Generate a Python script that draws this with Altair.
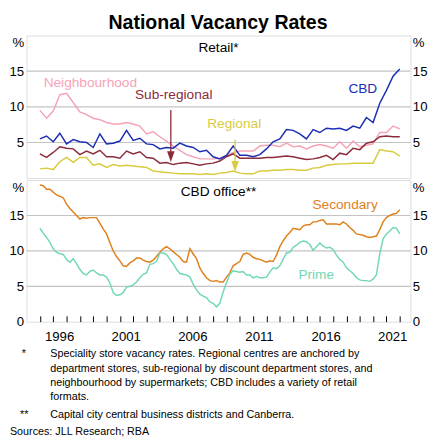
import altair as alt
import pandas as pd

FONT = "Liberation Sans"

# ---------------- data ----------------
retail_years = [1995 + 0.5 * i for i in range(55)]
neighbourhood = [9.5, 8.4, 9.4, 11.7, 11.9, 10.6, 9.3, 8.9, 8.4, 8.2,
                 7.8, 7.6, 7.6, 7.8, 7.6, 7.3, 6.2, 6.5, 5.8, 5.2,
                 4.5, 3.9, 3.3, 3.0, 2.7, 2.7, 2.7, 2.8, 3.2, 3.6,
                 3.8, 3.8, 3.8, 4.5, 4.6, 4.6, 4.4, 4.9, 4.4, 4.5,
                 4.1, 4.5, 4.7, 4.5, 4.2, 5.1, 4.2, 5.2, 4.4, 4.6,
                 4.8, 6.4, 6.4, 7.3, 6.9]
sub_regional = [3.4, 2.9, 3.6, 4.4, 4.2, 4.1, 3.3, 3.8, 3.4, 3.9,
                3.0, 3.0, 2.8, 3.8, 3.4, 3.7, 2.9, 2.8, 2.1, 2.2,
                1.9, 2.1, 2.2, 2.0, 1.8, 2.0, 2.1, 2.4, 3.0, 3.4,
                2.8, 2.8, 2.8, 2.8, 2.9, 2.9, 3.0, 3.1, 3.0, 2.8,
                2.6, 2.7, 2.9, 3.2, 2.6, 3.5, 3.3, 4.2, 4.0, 4.9,
                5.1, 5.8, 5.9, 5.8, 5.8]
regional = [1.3, 1.4, 1.2, 2.3, 2.9, 2.2, 2.9, 2.9, 1.8, 2.0,
            1.5, 1.9, 1.7, 1.8, 1.7, 1.6, 1.5, 1.0, 0.9, 0.8,
            0.7, 0.6, 0.6, 0.6, 0.5, 0.6, 0.5, 0.7, 0.8, 1.0,
            0.7, 0.6, 0.6, 1.0, 1.0, 1.1, 1.1, 1.2, 1.2, 1.1,
            1.1, 1.4, 1.5, 1.8, 1.9, 2.0, 2.0, 2.1, 2.1, 2.1,
            2.1, 4.0, 3.8, 3.7, 3.1]
cbd_retail = [5.5, 5.9, 5.1, 6.3, 4.8, 5.4, 5.1, 5.0, 4.3, 6.2,
              4.8, 4.9, 5.2, 6.7, 5.3, 5.6, 4.8, 4.7, 4.1, 4.3,
              4.2, 4.9, 4.5, 4.3, 3.7, 3.9, 3.0, 2.7, 3.2, 4.5,
              3.2, 3.2, 3.0, 3.3, 4.1, 5.1, 5.5, 6.8, 6.7, 6.2,
              5.5, 6.8, 6.4, 7.0, 6.9, 7.0, 6.7, 7.3, 7.0, 8.5,
              7.8, 10.5, 12.3, 14.3, 15.3]

office_years = [1995 + 0.25 * i for i in range(109)]
secondary = [19.3, 19.2, 18.7, 18.7,  18.3, 17.9, 17.7, 17.5,
             16.6, 16.0, 15.5, 15.0,  14.5, 14.7, 14.6, 14.7,
             14.7, 14.7, 13.9, 13.1,  12.4, 11.2, 10.0, 9.2,
             8.6, 7.9, 7.8, 8.3,      8.6, 9.0, 9.0, 8.7,
             8.5, 8.4, 8.7, 9.2,      9.8, 10.3, 10.6, 10.3,
             9.9, 9.5, 9.1, 8.5,      8.4, 10.3, 9.6, 8.9,
             7.6, 6.8, 6.2, 5.8,      5.7, 5.8, 5.6, 5.6,
             6.3, 6.9, 7.9, 8.2,      8.5, 9.5, 9.7, 9.5,
             9.1, 8.9, 8.8, 8.6,      8.4, 8.6, 8.5, 9.4,
             10.6, 11.4, 12.1, 12.6,  13.2, 13.1, 13.0, 13.5,
             13.7, 13.7, 14.1, 14.1,  14.3, 14.4, 13.8, 13.8,
             13.8, 13.8, 13.7, 14.1,  13.8, 13.3, 12.9, 12.4,
             12.3, 12.2, 12.0, 11.9,  12.0, 12.1, 13.0, 14.1,
             14.7, 15.0, 15.2, 15.3,  15.8]
prime = [13.2, 12.5, 11.9, 11.2,  10.3, 9.8, 9.6, 9.5,
         8.8, 8.4, 8.9, 8.2,      7.4, 6.8, 6.6, 7.1,
         7.3, 6.9, 6.6, 6.6,      6.3, 5.5, 4.1, 3.7,
         3.8, 4.1, 4.9, 5.0,      5.2, 5.6, 6.2, 6.7,
         6.9, 8.1, 8.2, 8.5,      9.7, 9.7, 9.5, 8.8,
         8.2, 7.4, 6.8, 6.7,      6.6, 6.3, 5.3, 4.5,
         3.9, 3.6, 3.4, 2.8,      2.6, 2.1, 2.6, 4.2,
         5.5, 6.7, 7.2, 7.1,      7.0, 7.1, 6.6, 6.6,
         6.2, 6.4, 6.2, 6.2,      6.3, 7.0, 7.6, 7.5,
         7.9, 8.8, 9.7, 9.8,      10.5, 10.8, 11.2, 11.4,
         11.3, 10.9, 10.1, 10.6,  11.1, 10.7, 10.4, 10.5,
         10.2, 9.4, 8.8, 8.4,     7.6, 7.2, 6.8, 6.2,
         5.9, 5.8, 5.8, 5.7,      6.0, 6.6, 9.6, 11.7,
         12.4, 12.8, 13.3, 13.2,  12.4]

retail_series = ["Neighbourhood", "Sub-regional", "Regional", "CBD"]
retail_colors = ["#F5A3B6", "#8C2B39", "#D9CB3F", "#1B2DB3"]
office_series = ["Secondary", "Prime"]
office_colors = ["#E0801C", "#72D7B7"]

label_years = [1996, 2001, 2006, 2011, 2016, 2021]
tick_years = list(range(1995, 2023))
grid_values = [5, 10, 15]
top_label_values = [5, 10, 15, 19]
bottom_label_values = [0, 5, 10, 15, 19]

footnote_lines = [
    "Speciality store vacancy rates. Regional centres are anchored by",
    "department stores, sub-regional by discount department stores, and",
    "neighbourhood by supermarkets; CBD includes a variety of retail",
    "formats.",
]
footnote2 = "Capital city central business districts and Canberra."
sources = "Sources: JLL Research; RBA"

# ---------------- tables ----------------
retail_df = pd.DataFrame({
    "year": retail_years * 4,
    "value": neighbourhood + sub_regional + regional + cbd_retail,
    "series": sum([[s] * len(retail_years) for s in retail_series], []),
})
office_df = pd.DataFrame({
    "year": office_years * 2,
    "value": secondary + prime,
    "series": sum([[s] * len(office_years) for s in office_series], []),
})
grid_df = pd.DataFrame({"v": grid_values})
one_df = pd.DataFrame({"k": [0]})

W, H1, H2 = 393, 146, 145
x_scale = alt.Scale(domain=[1994.0, 2022.8], nice=False, zero=False)
y_scale = alt.Scale(domain=[0, 20], nice=False, zero=False)


def y_axis(values, orient):
    return alt.Axis(
        values=values, orient=orient, grid=False, ticks=False, domain=False,
        labelExpr="datum.value == 19 ? '%' : datum.label",
        labelFontSize=13.5, labelFont=FONT, labelColor="black",
        labelPadding=3 if orient == "left" else 2,
        minExtent=17, maxExtent=17, title=None,
    )


def text_layer(text, px, py, color="black", size=14, align="left", baseline="alphabetic"):
    return alt.Chart(one_df).mark_text(
        fontSize=size, font=FONT, fontWeight="normal", color=color,
        align=align, baseline=baseline,
    ).encode(x=alt.value(px), y=alt.value(py), text=alt.value(text))


def panel(df, series, colors, label_values, x_axis, annotations, title_text):
    grid = alt.Chart(grid_df).mark_rule(color="#C4C4C4", strokeWidth=1.2).encode(
        y=alt.Y("v:Q", scale=y_scale, axis=y_axis(label_values, "right"))
    )
    lines = alt.Chart(df).mark_line(strokeWidth=1.5).encode(
        x=alt.X("year:Q", scale=x_scale, axis=x_axis),
        y=alt.Y("value:Q", scale=y_scale, axis=y_axis(label_values, "left")),
        color=alt.Color("series:N", scale=alt.Scale(domain=series, range=colors), legend=None),
    )
    layers = [grid, lines, text_layer(title_text, W / 2, 12.5, align="center", baseline="middle")]
    for text, color, px, py in annotations:
        layers.append(text_layer(text, px, py, color=color))
    return layers


arrow_shape = "M-0.7,-1L0.7,-1L0,1Z"

# top panel
top_layers = panel(
    retail_df, retail_series, retail_colors, top_label_values, None,
    [("Neighbourhood", retail_colors[0], 17.5, 53),
     ("Sub-regional", retail_colors[1], 111, 65),
     ("CBD", retail_colors[3], 329.5, 59),
     ("Regional", retail_colors[2], 185, 95)],
    "Retail*",
)
for color, px, py1, tip in [(retail_colors[1], 147.7, 76.2, 129.5),
                            (retail_colors[2], 213.5, 106.8, 139.5)]:
    top_layers.append(
        alt.Chart(one_df).mark_rule(color=color, strokeWidth=1.3).encode(
            x=alt.value(px), y=alt.value(py1), y2=alt.value(tip - 6))
    )
    top_layers.append(
        alt.Chart(one_df).mark_point(shape=arrow_shape, size=121, filled=True,
                                     color=color, opacity=1, strokeWidth=0).encode(
            x=alt.value(px), y=alt.value(tip - 5.5))
    )

top = alt.layer(*top_layers).properties(width=W, height=H1).resolve_axis(y="independent")

# bottom panel
x_axis_bottom = alt.Axis(
    values=tick_years, format="d", orient="bottom", offset=-6,
    labelExpr="indexof(%s, datum.value) >= 0 ? datum.label : ''" % str(label_years),
    tickSize=6, tickColor="black", tickWidth=1, domain=False, grid=False,
    labelPadding=8, labelFontSize=13.5, labelFont=FONT, labelColor="black",
    labelOffset=6, labelOverlap=False, labelFlush=False, title=None,
)
bottom_layers = panel(
    office_df, office_series, office_colors, bottom_label_values, x_axis_bottom,
    [("Secondary", office_colors[0], 292.7, 29.5),
     ("Prime", office_colors[1], 278.3, 101.5)],
    "CBD office**",
)
note_items = [("*", -5, 178.5)]
note_items += [(line, 24.3, 178.5 + 14.6 * k) for k, line in enumerate(footnote_lines)]
note_items += [("**", -6.7, 240.8), (footnote2, 24.3, 240.8), (sources, -17, 258)]
for text, px, py in note_items:
    bottom_layers.append(text_layer(text, px, py, size=11, baseline="middle"))
bottom = alt.layer(*bottom_layers).properties(width=W, height=H2).resolve_axis(y="independent")

chart = alt.vconcat(top, bottom, spacing=0).resolve_scale(color="independent").properties(
    title=alt.TitleParams("National Vacancy Rates", fontSize=20, fontWeight="bold",
                          font=FONT, anchor="middle", offset=2, color="black"),
    padding=0,
).configure_view(stroke="black", strokeWidth=1.3).configure(background="white")

chart.save("out.html", embed_options={"renderer": "svg", "actions": False})
